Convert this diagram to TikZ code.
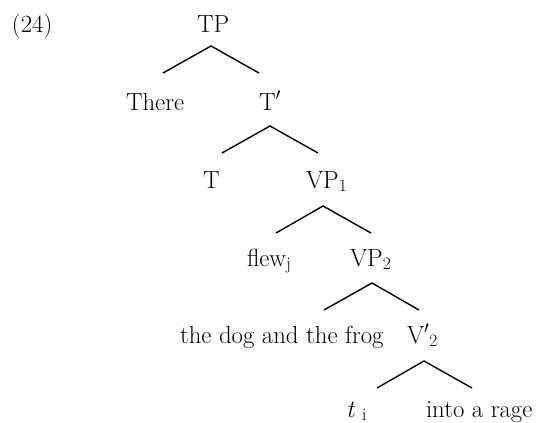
\documentclass[tikz,border=0pt]{standalone}
\begin{document}
\begin{tikzpicture}[x=1pt,y=-1pt,
  lbl/.style={anchor=base west,inner sep=0pt,outer sep=0pt,font=\fontsize{24.8}{28}\selectfont},
  branch/.style={line width=1.4pt,line join=miter}]
\useasboundingbox (0,0) rectangle (536,423);
\fill[white] (0,0) rectangle (536,423);
\node[lbl] (ex) at (12,32) {(24)};
\node[lbl] (tp) at (197,32) {TP};
\node[lbl] (there) at (126,110) {There};
\node[lbl] (tbar) at (259,110) {T$'$};
\node[lbl] (t) at (203,188) {T};
\node[lbl] (vp1) at (306,188) {VP\textsubscript{1}};
\node[lbl] (flew) at (247,266) {flew\textsubscript{j}};
\node[lbl] (vp2) at (350,266) {VP\textsubscript{2}};
\node[lbl] (dog) at (180,343) {the dog and the frog};
\node[lbl] (vbar) at (407,343) {V$'$\textsubscript{2}};
\node[lbl] (ti) at (346,417) {\textit{t}\hspace{7pt}\textsubscript{i}};
\node[lbl] (rage) at (426,417) {into a rage};
% branch points
\coordinate (a1) at (211,46);  \coordinate (l1) at (163,73);  \coordinate (r1) at (259,73);
\coordinate (a2) at (270,126); \coordinate (l2) at (222,153); \coordinate (r2) at (318,153);
\coordinate (a3) at (323,206); \coordinate (l3) at (276,233); \coordinate (r3) at (371,233);
\coordinate (a4) at (372,283); \coordinate (l4) at (324,310); \coordinate (r4) at (419,310);
\coordinate (a5) at (424,361); \coordinate (l5) at (377,388); \coordinate (r5) at (472,388);
\draw[branch] (l1) -- (a1) -- (r1);
\draw[branch] (l2) -- (a2) -- (r2);
\draw[branch] (l3) -- (a3) -- (r3);
\draw[branch] (l4) -- (a4) -- (r4);
\draw[branch] (l5) -- (a5) -- (r5);
\end{tikzpicture}
\end{document}
